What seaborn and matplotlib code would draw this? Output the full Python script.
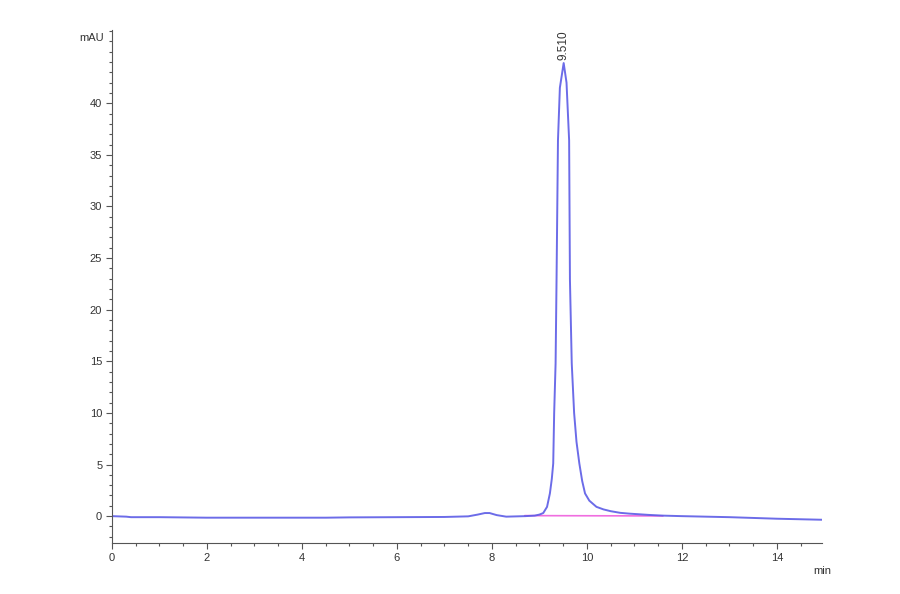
"""
HPLC chromatogram: single main peak at 9.510 min.
"""

import matplotlib.pyplot as plt
import seaborn as sns
from matplotlib.ticker import MultipleLocator

# Signal trace (time in min, absorbance in mAU)
time_min = [
    0.0, 0.3, 0.4, 1.0, 2.0, 3.0, 4.0, 4.5, 5.0, 6.0, 7.0, 7.5, 7.7, 7.85,
    7.95, 8.1, 8.3, 8.7, 8.9, 9.0, 9.08, 9.16, 9.22, 9.26, 9.29, 9.31, 9.34,
    9.36, 9.39, 9.43, 9.51, 9.57, 9.625, 9.642, 9.68, 9.73, 9.78, 9.84, 9.9,
    9.96, 10.05, 10.2, 10.35, 10.5, 10.7, 10.9, 11.3, 11.6, 12.0, 13.0, 14.0,
    14.95,
]
signal_mau = [
    0.0, -0.05, -0.1, -0.1, -0.15, -0.15, -0.15, -0.15, -0.12, -0.1, -0.08,
    -0.02, 0.15, 0.3, 0.3, 0.1, -0.05, 0.0, 0.05, 0.15, 0.3, 0.9, 2.2, 3.6,
    5.1, 10.0, 14.8, 22.9, 36.4, 41.5, 43.9, 42.0, 36.4, 22.9, 14.8, 10.0,
    7.2, 5.1, 3.4, 2.2, 1.5, 0.9, 0.65, 0.48, 0.32, 0.24, 0.12, 0.05, 0.0,
    -0.1, -0.25, -0.35,
]

# Integration baseline under the peak
baseline_t = [8.69, 11.6]
baseline_mau = [0.05, 0.02]

peak_rt = 9.510
peak_height = 43.9

sns.set_style("ticks")
plt.rcParams["font.family"] = ["Liberation Sans", "DejaVu Sans"]

fig = plt.figure(figsize=(9, 5.94), dpi=100)
ax = fig.add_axes([0.1244, 0.0859, 0.789, 0.8636])

sns.lineplot(x=baseline_t, y=baseline_mau, ax=ax, color="#f06ee0", lw=1.2)
sns.lineplot(x=time_min, y=signal_mau, ax=ax, color="#5c5ce6", lw=1.4, alpha=0.9)

ax.text(peak_rt, peak_height + 0.3, f"{peak_rt:.3f}", rotation=90,
        ha="center", va="bottom", fontsize=8.5, color="#333333")

ax.set_xlim(0, 14.95)
ax.set_ylim(-2.6, 47.1)
ax.xaxis.set_major_locator(MultipleLocator(2))
ax.xaxis.set_minor_locator(MultipleLocator(0.5))
ax.yaxis.set_major_locator(MultipleLocator(5))
ax.yaxis.set_minor_locator(MultipleLocator(1))
ax.set_yticks(range(0, 45, 5))

ax.tick_params(which="major", length=4, width=0.8, color="#555555",
               labelsize=8, labelcolor="#333333", pad=3)
ax.tick_params(which="minor", length=2.5, width=0.8, color="#555555")

sns.despine(ax=ax)
for side in ("left", "bottom"):
    ax.spines[side].set_color("#555555")
    ax.spines[side].set_linewidth(0.8)

ax.set_xlabel("")
ax.set_ylabel("")
ax.text(1.0, -0.055, "min", transform=ax.transAxes, ha="center", va="center",
        fontsize=8, color="#333333")
ax.text(-0.012, 0.985, "mAU", transform=ax.transAxes, ha="right", va="center",
        fontsize=8, color="#333333")

fig.savefig("out.png", dpi=100)
plt.close(fig)
